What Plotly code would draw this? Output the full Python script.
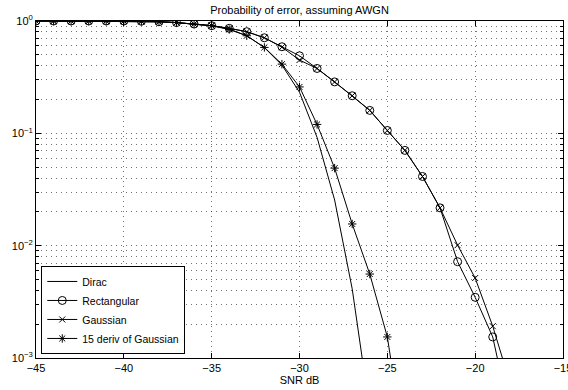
import plotly.graph_objects as go

snr = [-45, -44, -43, -42, -41, -40, -39, -38, -37, -36, -35, -34, -33, -32,
       -31, -30, -29, -28, -27, -26, -25, -24, -23, -22, -21, -20, -19, -18]

dirac = [1.0, 1.0, 1.0, 1.0, 1.0, 1.0, 0.995, 0.985, 0.968, 0.94, 0.908, 0.849,
         0.739, 0.580, 0.405, 0.232, 0.092, 0.0255, 0.00413, 0.00034,
         None, None, None, None, None, None, None, None]

rectangular = [1.0, 1.0, 1.0, 1.0, 1.0, 1.0, 0.995, 0.985, 0.968, 0.94, 0.908, 0.861,
               0.803, 0.709, 0.590, 0.490, 0.378, 0.287, 0.216, 0.160, 0.106,
               0.0705, 0.0413, 0.0217, 0.0072, 0.00347, 0.00154, 0.000297]

gaussian = [1.0, 1.0, 1.0, 1.0, 1.0, 1.0, 0.995, 0.985, 0.968, 0.94, 0.908, 0.861,
            0.803, 0.709, 0.585, 0.449, 0.378, 0.287, 0.216, 0.160, 0.106,
            0.0705, 0.0413, 0.0217, 0.0101, 0.00515, 0.00192, 0.00059]

deriv15 = [1.0, 1.0, 1.0, 1.0, 1.0, 1.0, 0.995, 0.985, 0.968, 0.94, 0.908, 0.840,
           0.739, 0.582, 0.413, 0.259, 0.120, 0.049, 0.0156, 0.00559, 0.00154,
           0.00015, None, None, None, None, None, None]

names = ["Dirac", "Rectangular", "Gaussian", "15 deriv of Gaussian"]
series = [dirac, rectangular, gaussian, deriv15]
modes = ["lines", "lines+markers", "lines+markers", "lines+markers"]
symbols = ["circle", "circle-open", "x-thin-open", "asterisk-open"]
sizes = [6, 8, 6, 7]

xtickvals = [-45, -40, -35, -30, -25, -20, -15]
xticktext = ["−45", "−40", "−35", "−30", "−25", "−20", "−15"]
ytickvals = [1e-3, 1e-2, 1e-1, 1]
yticktext = ["10<sup>−3</sup>", "10<sup>−2</sup>", "10<sup>−1</sup>", "10<sup>0</sup>"]
yminorvals = [m * d for d in (1e-3, 1e-2, 1e-1) for m in (2, 3, 4, 5, 6, 7, 8, 9)]

fig = go.Figure()
for name, ys, mode, sym, sz in zip(names, series, modes, symbols, sizes):
    fig.add_trace(go.Scatter(
        x=snr, y=ys, name=name, mode=mode,
        line=dict(color="black", width=1),
        marker=dict(symbol=sym, size=sz, color="black",
                    line=dict(color="black", width=1)),
        connectgaps=False,
    ))

font = "Liberation Sans, Arial, Helvetica, sans-serif"
grid_col = "rgba(0,0,0,0.55)"
grid_dash = "1px,4px"
fig.update_layout(
    width=568, height=390,
    margin=dict(l=36, r=5, t=21, b=32),
    paper_bgcolor="white", plot_bgcolor="white",
    font=dict(family=font, size=11, color="black"),
    title=dict(text="Probability of error, assuming AWGN", x=0.5, xref="paper",
               xanchor="center", y=1 - 10 / 390, yref="container", yanchor="middle",
               font=dict(size=11)),
    showlegend=True,
    legend=dict(x=0.01, y=0.012, xanchor="left", yanchor="bottom",
                bgcolor="white", bordercolor="black", borderwidth=1,
                font=dict(size=10.5), tracegroupgap=0, itemwidth=30),
)
fig.update_xaxes(
    range=[-45.0001, -14.9999], tickvals=xtickvals, ticktext=xticktext,
    automargin=False, ticklabeloverflow="allow",
    showline=True, linecolor="black", linewidth=1, mirror="allticks",
    ticks="inside", ticklen=5, tickcolor="black",
    showgrid=True, gridcolor=grid_col, griddash=grid_dash, gridwidth=1,
    zeroline=False,
    title=dict(text="SNR dB", standoff=0, font=dict(size=11)),
)
fig.update_yaxes(
    type="log", range=[-3, 0], automargin=False, ticklabeloverflow="allow",
    tickvals=ytickvals, ticktext=yticktext,
    showline=True, linecolor="black", linewidth=1, mirror="allticks",
    ticks="inside", ticklen=5, tickcolor="black",
    showgrid=True, gridcolor=grid_col, griddash=grid_dash, gridwidth=1,
    zeroline=False,
    minor=dict(tickvals=yminorvals, ticks="inside", ticklen=3, tickcolor="black",
               showgrid=True, gridcolor=grid_col, griddash=grid_dash, gridwidth=1),
)

fig.write_html(
    "out.html",
    config={"displayModeBar": False},
    post_script="document.body.style.margin='0';document.body.style.overflow='hidden';",
)
